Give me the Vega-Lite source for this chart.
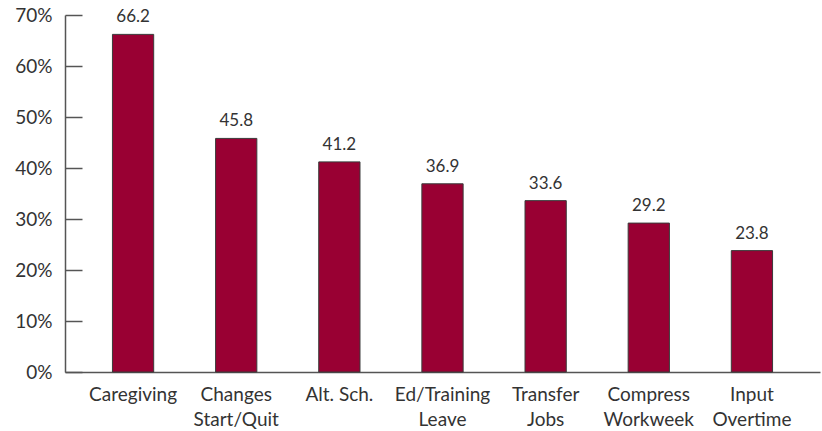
{
  "$schema": "https://vega.github.io/schema/vega-lite/v6.json",
  "autosize": "none",
  "width": 755,
  "height": 357,
  "padding": {"left": 65, "top": 15, "right": 2, "bottom": 59},
  "background": "white",
  "config": {
    "view": {"stroke": null},
    "font": "Lato"
  },
  "data": {
    "values": [
      {"category": "Caregiving", "value": 66.2},
      {"category": "Changes\nStart/Quit", "value": 45.8},
      {"category": "Alt. Sch.", "value": 41.2},
      {"category": "Ed/Training\nLeave", "value": 36.9},
      {"category": "Transfer\nJobs", "value": 33.6},
      {"category": "Compress\nWorkweek", "value": 29.2},
      {"category": "Input\nOvertime", "value": 23.8}
    ]
  },
  "encoding": {
    "x": {
      "field": "category",
      "type": "nominal",
      "sort": null,
      "scale": {"paddingInner": 0.6, "paddingOuter": 0.46},
      "axis": {
        "title": null,
        "labelAngle": 0,
        "ticks": false,
        "labelExpr": "split(datum.label, '\\n')",
        "labelFontSize": 19,
        "labelLineHeight": 25,
        "labelColor": "#333333",
        "labelPadding": 13,
        "domainColor": "#555555",
        "domainWidth": 1.5,
        "labelBaseline": "top"
      }
    },
    "y": {
      "field": "value",
      "type": "quantitative",
      "scale": {"domain": [0, 70], "nice": false},
      "axis": {
        "title": null,
        "values": [0, 10, 20, 30, 40, 50, 60, 70],
        "labelExpr": "datum.value + '%'",
        "grid": false,
        "tickSize": -17,
        "tickColor": "#555555",
        "tickWidth": 1.5,
        "domainColor": "#555555",
        "domainWidth": 1.5,
        "labelFontSize": 19,
        "labelColor": "#333333",
        "labelPadding": 30
      }
    }
  },
  "layer": [
    {
      "mark": {"type": "bar", "color": "#990033", "stroke": "#3a3a3a", "strokeWidth": 1}
    },
    {
      "mark": {"type": "text", "baseline": "bottom", "dy": -8, "fontSize": 17, "color": "#333333"},
      "encoding": {
        "text": {"field": "value", "type": "quantitative", "format": ".1f"}
      }
    }
  ]
}
